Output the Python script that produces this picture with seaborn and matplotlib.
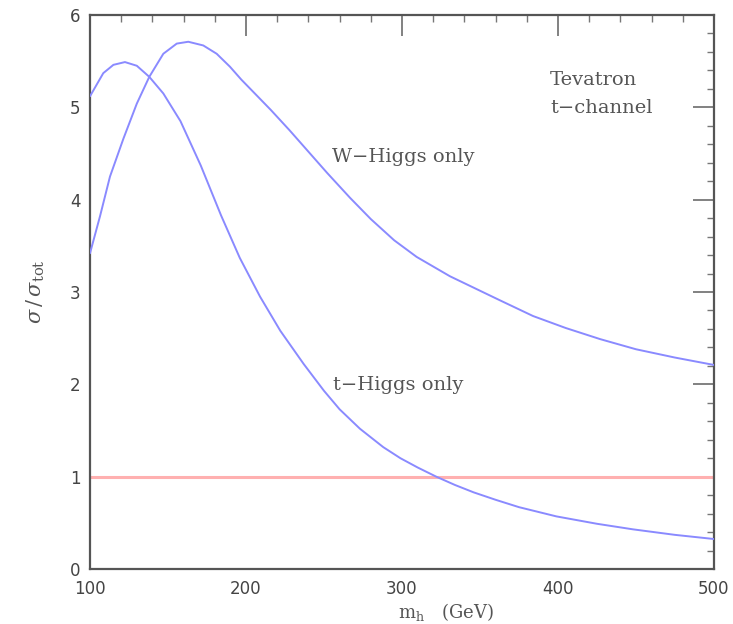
import matplotlib
matplotlib.use("Agg")
import matplotlib.pyplot as plt
from matplotlib.ticker import MultipleLocator
import numpy as np
import pandas as pd
import seaborn as sns

# t-Higgs only curve (m_h in GeV, sigma/sigma_tot)
t_mh = [100, 108.5, 115, 122.4, 130, 138, 147, 158, 171, 184, 196, 209, 222, 237, 250, 260,
        273, 288, 299, 310, 322, 334, 346, 360, 375, 399, 425, 448, 475, 500]
t_ratio = [5.12, 5.37, 5.46, 5.49, 5.45, 5.33, 5.15, 4.85, 4.37, 3.83, 3.37, 2.95, 2.58, 2.22,
           1.93, 1.73, 1.52, 1.32, 1.20, 1.10, 1.00, 0.91, 0.83, 0.75, 0.67, 0.57, 0.49,
           0.43, 0.37, 0.325]

# W-Higgs only curve
w_mh = [100, 106.4, 112.8, 121.4, 130, 138, 147, 155.6, 163, 172.6, 181.2, 189.7, 197, 206.8,
        216, 228, 240, 252, 266.7, 280, 295, 309.4, 330.8, 362.8, 384, 405, 427, 450, 475, 500]
w_ratio = [3.42, 3.82, 4.25, 4.66, 5.04, 5.33, 5.58, 5.69, 5.71, 5.67, 5.58, 5.44, 5.30, 5.13,
           4.97, 4.75, 4.52, 4.29, 4.02, 3.79, 3.56, 3.38, 3.17, 2.91, 2.74, 2.61, 2.49,
           2.38, 2.29, 2.21]

# reference line
ref_mh = [100, 500]
ref_ratio = [1.0, 1.0]

sns.set_style("white")
plt.rcParams['font.family'] = ['DejaVu Sans']
plt.rcParams['mathtext.fontset'] = 'dejavuserif'

fig = plt.figure(figsize=(7.33, 6.24), dpi=100)
ax = fig.add_axes([0.1228, 0.0881, 0.974 - 0.1228, 0.976 - 0.0881])

df_t = pd.DataFrame({"mh": t_mh, "ratio": t_ratio})
df_w = pd.DataFrame({"mh": w_mh, "ratio": w_ratio})
df_r = pd.DataFrame({"mh": ref_mh, "ratio": ref_ratio})

sns.lineplot(data=df_r, x="mh", y="ratio", ax=ax, color="#ffb0b0", lw=2.2, zorder=2)
sns.lineplot(data=df_t, x="mh", y="ratio", ax=ax, color="#8a8aff", lw=1.4, zorder=3)
sns.lineplot(data=df_w, x="mh", y="ratio", ax=ax, color="#8a8aff", lw=1.4, zorder=3)

ax.set_xlim(100, 500)
ax.set_ylim(0, 6)
ax.xaxis.set_major_locator(MultipleLocator(100))
ax.xaxis.set_minor_locator(MultipleLocator(20))
ax.yaxis.set_major_locator(MultipleLocator(1))
ax.yaxis.set_minor_locator(MultipleLocator(0.2))
ax.tick_params(which="both", direction="in", top=True, right=True, color="#777777",
               labelcolor="#444444", labelsize=12)
ax.tick_params(which="major", length=15, width=1.3)
ax.tick_params(axis="x", which="major", pad=8)
ax.tick_params(axis="y", which="major", pad=7)
ax.tick_params(which="minor", length=5, width=1.0)
for s in ax.spines.values():
    s.set_color("#555555")
    s.set_linewidth(1.6)

ax.set_xlabel(r"$\mathrm{m_h}$   (GeV)", fontsize=13, color="#555555", family="DejaVu Serif")
ax.xaxis.set_label_coords(0.57, -0.058)
ax.set_ylabel(r"$\sigma\,/\,\sigma_{\mathrm{tot}}$", fontsize=15, color="#555555", labelpad=16)

tx = dict(fontsize=14, color="#555555", family="DejaVu Serif", va="center", ha="left")
ax.text(395, 5.30, "Tevatron", **tx)
ax.text(395, 4.99, "t\u2212channel", **tx)
ax.text(255, 4.46, "W\u2212Higgs only", **tx)
ax.text(255.5, 1.99, "t\u2212Higgs only", **tx)

fig.savefig("out.png", dpi=100, facecolor="white")
